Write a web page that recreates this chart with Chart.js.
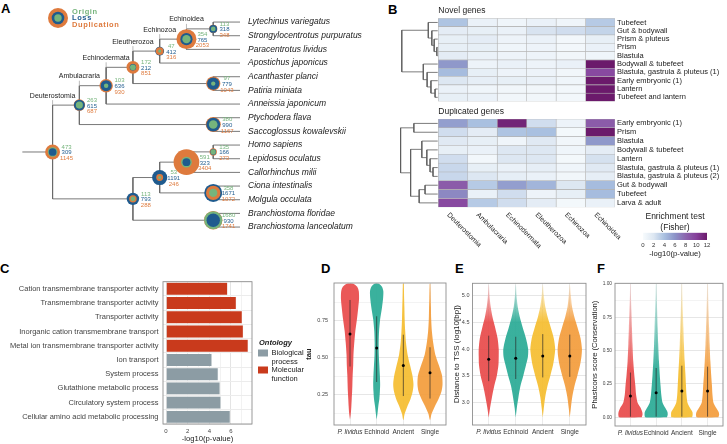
<!DOCTYPE html>
<html>
<head>
<meta charset="utf-8">
<script src="https://cdn.jsdelivr.net/npm/chart.js@4.4.1/dist/chart.umd.min.js"></script>
<style>
  body { margin: 0; background: #fff; width: 727px; height: 444px; position: relative; overflow: hidden; font-family: 'Liberation Sans', Arial, sans-serif; }
  canvas { position: absolute; }
  .lab { position: absolute; font-weight: bold; font-size: 13px; color: #000; line-height: 13px; }
</style>
</head>
<body>
<div class="lab" style="left:1px;top:2px">A</div>
<div class="lab" style="left:388px;top:3px">B</div>
<div class="lab" style="left:0px;top:262px">C</div>
<div class="lab" style="left:321px;top:262px">D</div>
<div class="lab" style="left:455px;top:262px">E</div>
<div class="lab" style="left:597px;top:262px">F</div>
<script>
// ---------- A: gene tree ----------
const leaves = ['Lytechinus variegatus', 'Strongylocentrotus purpuratus', 'Paracentrotus lividus', 'Apostichus japonicus',
  'Acanthaster planci', 'Patiria miniata', 'Anneissia japonicum', 'Ptychodera flava', 'Saccoglossus kowalevskii',
  'Homo sapiens', 'Lepidosus oculatus', 'Callorhinchus milii', 'Ciona intestinalis', 'Molgula occulata',
  'Branchiostoma floridae', 'Branchiostoma lanceolatum'];
// internal nodes: children ids (leaf i -> i, node j -> 16 + j)
const nodeKids = [[17, 25], [18, 24], [19, 6], [20, 23], [21, 3], [22, 2], [0, 1], [4, 5], [7, 8],
  [26, 29], [27, 28], [30, 11], [12, 13], [14, 15], [9, 10]];
const nodeDepth = [0, 1, 2, 3, 4, 5, 6, 6, 6, 3, 4, 5, 6, 6, 6];
const nodeLabel = ['Deuterostomia', 'Ambulacraria', 'Echinodermata', 'Eleutherozoa', 'Echinozoa', 'Echinoidea',
  '', '', '', '', '', '', '', '', ''];
const originCounts = [473, 263, 103, 172, 47, 354, 113, 97, 380, 113, 53, 591, 358, 1680, 135];
const lossCounts = [309, 615, 636, 212, 412, 765, 318, 779, 990, 793, 1191, 323, 1671, 930, 166];
const dupCounts = [1145, 687, 930, 851, 316, 2053, 348, 1043, 1167, 288, 246, 3404, 1072, 1741, 273];

// ---------- B: enrichment heatmaps ----------
const clades = ['Deuterostomia', 'Ambulacraria', 'Echinodermata', 'Eleutherozoa', 'Echinozoa', 'Echinoidea'];
const novelRows = ['Tubefeet', 'Gut & bodywall', 'Prism & pluteus', 'Prism', 'Blastula', 'Bodywall & tubefeet',
  'Blastula, gastrula & pluteus (1)', 'Early embryonic (1)', 'Lantern', 'Tubefeet and lantern'];
const novelVals = [
  [3.8, 1.0, 0.6, 1.0, 0.6, 3.5],
  [1.5, 1.2, 1.0, 2.2, 2.5, 3.0],
  [1.2, 1.5, 0.8, 1.0, 0.4, 1.2],
  [1.2, 1.2, 0.6, 0.8, 0.4, 1.0],
  [1.5, 1.0, 0.8, 0.8, 0.5, 0.6],
  [5.8, 0.8, 1.0, 0.8, 1.0, 12],
  [4.2, 1.2, 0.8, 0.8, 0.5, 9.5],
  [2.0, 1.3, 1.2, 1.0, 0.6, 12],
  [1.0, 0.6, 0.5, 0.5, 0.4, 12],
  [1.2, 1.0, 0.5, 0.5, 0.4, 12]];
const novelMerges = [[3, 4, 0.05], [2, 10, 0.14], [1, 11, 0.22], [0, 12, 0.34], [8, 9, 0.11],
  [7, 14, 0.25], [6, 15, 0.38], [5, 16, 0.51], [13, 17, 1.24]];
const dupRows = ['Early embryonic (1)', 'Prism', 'Blastula', 'Bodywall & tubefeet', 'Lantern',
  'Blastula, gastrula & pluteus (1)', 'Blastula, gastrula & pluteus (2)', 'Gut & bodywall', 'Tubefeet', 'Larva & adult'];
const dupVals = [
  [5.5, 4.0, 11.5, 2.5, 0.8, 8.5],
  [2.5, 1.5, 3.8, 4.0, 0.3, 12],
  [1.8, 1.2, 0.6, 1.8, 0.5, 5.8],
  [1.2, 1.0, 2.0, 2.0, 0.6, 1.5],
  [2.5, 0.4, 2.0, 2.0, 0.3, 2.3],
  [2.8, 1.2, 1.0, 1.3, 0.6, 1.8],
  [2.8, 2.0, 1.3, 1.0, 0.5, 1.3],
  [8.5, 3.5, 5.5, 4.5, 2.0, 4.2],
  [6.5, 1.0, 2.5, 0.8, 1.2, 4.2],
  [9.5, 3.5, 2.5, 1.5, 0.3, 1.0]];
const dupMerges = [[0, 1, 0.83], [5, 6, 0.18], [4, 11, 0.28], [3, 12, 0.39], [2, 13, 0.56],
  [7, 8, 0.45], [15, 9, 0.65], [14, 16, 0.94], [10, 17, 1.28]];
const scaleStops = [0, 2, 4, 6, 8, 10, 12];
const scaleColors = ['#f7fbfd', '#dde7f2', '#a9c0e0', '#8c93c8', '#8c65ae', '#86409b', '#6b1a6b'];

// ---------- C: GO enrichment ----------
const goTerms = ['Cation transmembrane transporter activity', 'Transmembrane transporter activity', 'Transporter activity',
  'Inorganic cation transmembrane transport', 'Metal ion transmembrane transporter activity', 'Ion transport',
  'System process', 'Glutathione metabolic process', 'Circulatory system process', 'Cellular amino acid metabolic processing'];
const goValues = [5.7, 6.5, 7.05, 7.15, 7.6, 4.25, 4.83, 5.0, 5.08, 5.94];
const goOntology = ['Molecular function', 'Molecular function', 'Molecular function', 'Molecular function', 'Molecular function',
  'Biological process', 'Biological process', 'Biological process', 'Biological process', 'Biological process'];
const ontologyNames = ['Biological process', 'Molecular function'];
const ontologyColors = ['#8c9ca4', '#c93a1c'];

// ---------- D/E/F: violins ----------
const groups = ['P. lividus', 'Echinoid', 'Ancient', 'Single'];
const groupColors = ['#e84a4a', '#29aa95', '#f5bd2f', '#f39c3b'];

const tauLevels = [0.08, 0.12, 0.17, 0.22, 0.27, 0.32, 0.38, 0.45, 0.52, 0.6, 0.68, 0.76, 0.84, 0.9, 0.95, 0.98, 1.0];
const tauPlividus = [0, 0.03, 0.05, 0.065, 0.08, 0.09, 0.1, 0.12, 0.13, 0.16, 0.2, 0.26, 0.31, 0.34, 0.33, 0.27, 0.12];
const tauEchinoid = [0, 0.03, 0.06, 0.1, 0.12, 0.13, 0.12, 0.1, 0.08, 0.075, 0.09, 0.13, 0.2, 0.24, 0.25, 0.2, 0.08];
const tauAncient = [0.01, 0.05, 0.15, 0.27, 0.35, 0.38, 0.34, 0.25, 0.16, 0.1, 0.07, 0.05, 0.04, 0.03, 0.025, 0.02, 0.015];
const tauSingle = [0.01, 0.06, 0.18, 0.32, 0.43, 0.47, 0.45, 0.33, 0.2, 0.12, 0.07, 0.045, 0.035, 0.025, 0.02, 0.015, 0.01];
const tauMedian = [0.66, 0.565, 0.447, 0.398];
const tauLow = [0.44, 0.335, 0.24, 0.223];
const tauHigh = [0.89, 0.78, 0.655, 0.57];

const tssLevels = [2.72, 2.9, 3.1, 3.3, 3.5, 3.7, 3.85, 4.0, 4.2, 4.4, 4.6, 4.8, 5.0, 5.2];
const tssPlividus = [0, 0.05, 0.12, 0.2, 0.3, 0.36, 0.37, 0.37, 0.33, 0.24, 0.14, 0.07, 0.03, 0.01];
const tssEchinoid = [0, 0.04, 0.1, 0.17, 0.28, 0.38, 0.45, 0.46, 0.38, 0.26, 0.15, 0.07, 0.03, 0.01];
const tssAncient = [0, 0.04, 0.09, 0.17, 0.28, 0.38, 0.43, 0.46, 0.41, 0.3, 0.18, 0.09, 0.04, 0.01];
const tssSingle = [0, 0.04, 0.09, 0.17, 0.28, 0.38, 0.43, 0.45, 0.4, 0.29, 0.17, 0.08, 0.04, 0.01];
const tssMedian = [3.81, 3.83, 3.87, 3.87];
const tssLow = [3.40, 3.44, 3.47, 3.48];
const tssHigh = [4.25, 4.23, 4.28, 4.27];

const phcLevels = [0, 0.02, 0.04, 0.07, 0.11, 0.17, 0.24, 0.32, 0.42, 0.55, 0.67, 0.8, 0.92, 1.0];
const phcPlividus = [0.44, 0.47, 0.46, 0.4, 0.28, 0.22, 0.19, 0.15, 0.11, 0.08, 0.06, 0.04, 0.02, 0.01];
const phcEchinoid = [0.42, 0.45, 0.44, 0.36, 0.25, 0.2, 0.17, 0.14, 0.11, 0.08, 0.06, 0.04, 0.025, 0.015];
const phcAncient = [0.4, 0.42, 0.41, 0.32, 0.22, 0.18, 0.16, 0.14, 0.11, 0.08, 0.06, 0.04, 0.025, 0.015];
const phcSingle = [0.42, 0.45, 0.43, 0.34, 0.23, 0.19, 0.17, 0.14, 0.11, 0.08, 0.06, 0.04, 0.025, 0.015];
const phcMedian = [0.16, 0.185, 0.198, 0.198];
const phcLow = [0.005, 0.005, 0.005, 0.005];
const phcHigh = [0.336, 0.37, 0.387, 0.38];

// ---------- setup ----------
const FONT = "'Liberation Sans', Arial, sans-serif";
Chart.defaults.font.family = FONT;
Chart.defaults.color = '#333';
Chart.defaults.animation = false;
Chart.defaults.responsive = false;
Chart.defaults.plugins.legend.display = false;
Chart.defaults.plugins.tooltip.enabled = false;

const GREEN = '#76b47c', BLUE = '#1f5b8e', ORANGE = '#de7a3d';
const gap = {x: null, y: null};

function mk(id, l, t, w, h) {
  const c = document.createElement('canvas');
  c.id = id; c.width = w; c.height = h;
  c.style.left = l + 'px'; c.style.top = t + 'px';
  c.style.width = w + 'px'; c.style.height = h + 'px';
  document.body.appendChild(c);
  return c;
}
function rgba(hex, a) {
  const n = parseInt(hex.slice(1), 16);
  return 'rgba(' + (n >> 16) + ',' + ((n >> 8) & 255) + ',' + (n & 255) + ',' + a + ')';
}
function heatColor(v) {
  let i = 0;
  while (i < scaleStops.length - 2 && v > scaleStops[i + 1]) i++;
  const t = Math.min(1, Math.max(0, (v - scaleStops[i]) / (scaleStops[i + 1] - scaleStops[i])));
  const a = parseInt(scaleColors[i].slice(1), 16), b = parseInt(scaleColors[i + 1].slice(1), 16);
  const ch = s => Math.round(((a >> s) & 255) * (1 - t) + ((b >> s) & 255) * t);
  return 'rgb(' + ch(16) + ',' + ch(8) + ',' + ch(0) + ')';
}
const framePlugin = {
  id: 'frame',
  afterDatasetsDraw(chart) {
    const a = chart.chartArea, ctx = chart.ctx;
    ctx.save();
    ctx.strokeStyle = '#8f8f8f'; ctx.lineWidth = 0.9;
    ctx.strokeRect(a.left, a.top, a.right - a.left, a.bottom - a.top);
    ctx.restore();
  }
};

// ---------- A ----------
const rad = v => 0.22 * Math.sqrt(v);
const nodeY = [];
function yOf(id) {
  if (id < 16) return id;
  const j = id - 16;
  if (nodeY[j] === undefined) nodeY[j] = (yOf(nodeKids[j][0]) + yOf(nodeKids[j][1])) / 2;
  return nodeY[j];
}
nodeKids.forEach((k, j) => yOf(16 + j));
const xOf = id => id < 16 ? 7 : nodeDepth[id - 16];

const treeEdges = [{x: -1.13, y: nodeY[0]}, {x: 0, y: nodeY[0]}, gap];
nodeKids.forEach((k, j) => {
  const d = nodeDepth[j];
  treeEdges.push({x: d, y: yOf(k[0])}, {x: d, y: yOf(k[1])}, gap);
  k.forEach(c => treeEdges.push({x: d, y: yOf(c)}, {x: xOf(c), y: yOf(c)}, gap));
});

const kinds = [[originCounts, GREEN], [lossCounts, BLUE], [dupCounts, ORANGE]];
const layers = [[], [], []], layerCols = [[], [], []];
nodeDepth.forEach((d, j) => {
  kinds.map(k => ({v: k[0][j], col: k[1]})).sort((a, b) => b.v - a.v).forEach((s, i) => {
    layers[i].push({x: d, y: nodeY[j], r: rad(s.v)});
    layerCols[i].push(s.col);
  });
});

const treeText = {
  id: 'treeText',
  afterDatasetsDraw(chart) {
    const {ctx, scales: {x, y}} = chart;
    ctx.save();
    ctx.textBaseline = 'middle';
    nodeDepth.forEach((d, j) => {
      const px = x.getPixelForValue(d), py = y.getPixelForValue(nodeY[j]);
      const r = rad(Math.max(originCounts[j], lossCounts[j], dupCounts[j]));
      ctx.font = '6px ' + FONT;
      ctx.textAlign = 'center';
      [[originCounts, GREEN, -4.9], [lossCounts, BLUE, 0.8], [dupCounts, ORANGE, 6.5]].forEach(([arr, col, dy]) => {
        ctx.fillStyle = col;
        ctx.fillText(String(arr[j]), px + 8 + 0.8 * r, py + dy);
      });
      if (nodeLabel[j]) {
        const top = y.getPixelForValue(Math.min(yOf(nodeKids[j][0]), yOf(nodeKids[j][1])));
        ctx.strokeStyle = '#aaa'; ctx.lineWidth = 0.8;
        ctx.beginPath(); ctx.moveTo(px, top - 5); ctx.lineTo(px, top); ctx.stroke();
        ctx.fillStyle = '#222';
        ctx.font = '7px ' + FONT;
        ctx.fillText(nodeLabel[j], px, top - 9.5);
      }
    });
    // size legend
    [[10, ORANGE], [6.3, BLUE], [3.7, GREEN]].forEach(([r, col]) => {
      ctx.fillStyle = col; ctx.beginPath(); ctx.arc(58, 18, r, 0, Math.PI * 2); ctx.fill();
    });
    ctx.font = 'bold 7.5px ' + FONT;
    ctx.letterSpacing = '0.6px';
    ctx.textAlign = 'left';
    [['Origin', GREEN, 11.5], ['Loss', BLUE, 18.2], ['Duplication', ORANGE, 25]].forEach(([t, col, yy]) => {
      ctx.fillStyle = col; ctx.fillText(t, 72, yy);
    });
    ctx.restore();
  }
};

new Chart(mk('tree', 0, 0, 370, 250), {
  type: 'scatter',
  data: {
    datasets: [
      {type: 'line', data: treeEdges, borderColor: '#6a6a6a', borderWidth: 0.9, pointRadius: 0, spanGaps: false, order: 10},
      ...layers.map((l, i) => ({type: 'bubble', data: l, backgroundColor: layerCols[i], borderWidth: 0, order: 3 - i, clip: false}))
    ]
  },
  options: {
    layout: {padding: 0},
    scales: {
      x: {type: 'linear', min: -1.485, max: 7, display: false},
      y: {
        type: 'linear', reverse: true, min: -0.655, max: 15.72, position: 'right',
        grid: {display: false, drawTicks: false}, border: {display: false},
        afterBuildTicks: s => { s.ticks = leaves.map((_, i) => ({value: i})); },
        afterFit: s => { s.width = 130; },
        ticks: {autoSkip: false, padding: 8, color: '#222', font: {size: 8.5, style: 'italic'}, callback: v => leaves[v]}
      }
    }
  },
  plugins: [treeText]
});

// ---------- B ----------
function heatmap(canvas, rows, vals, merges, title, padTop, padBottom, withCols) {
  const datasets = clades.map((c, ci) => ({
    type: 'bar', indexAxis: 'y', grouped: false, barPercentage: 1, categoryPercentage: 1,
    data: rows.map((r, ri) => ({x: [ci, ci + 1], y: ri})),
    backgroundColor: rows.map((r, ri) => heatColor(vals[ri][ci])),
    borderColor: '#b4b4b4', borderWidth: 0.6, borderSkipped: false
  }));
  const n = rows.length, cx = [], cy = [];
  const pos = id => id < n ? {x: -0.02, y: id} : {x: cx[id - n], y: cy[id - n]};
  const seg = [];
  merges.forEach(([a, b, h], k) => {
    const A = pos(a), B = pos(b);
    cx[k] = -h; cy[k] = (A.y + B.y) / 2;
    seg.push({x: -h, y: A.y}, {x: -h, y: B.y}, gap, {x: -h, y: A.y}, {x: A.x, y: A.y}, gap, {x: -h, y: B.y}, {x: B.x, y: B.y}, gap);
  });
  datasets.push({type: 'line', data: seg, borderColor: '#5a5a5a', borderWidth: 0.8, pointRadius: 0, spanGaps: false});
  const labels = {
    id: 'hmLabels',
    afterDraw(chart) {
      const {ctx, chartArea: a, scales: {x}} = chart;
      ctx.save();
      ctx.fillStyle = '#222';
      ctx.font = '8.5px ' + FONT;
      ctx.textBaseline = 'middle'; ctx.textAlign = 'left';
      ctx.fillText(title, x.getPixelForValue(0), a.top - 7.5);
      if (withCols) {
        ctx.font = '7px ' + FONT;
        clades.forEach((c, ci) => {
          ctx.save();
          ctx.translate(x.getPixelForValue(ci + 0.5) - 5, a.bottom + 6.5);
          ctx.rotate(Math.PI / 4);
          ctx.fillText(c, 0, 0);
          ctx.restore();
        });
      }
      ctx.restore();
    }
  };
  new Chart(canvas, {
    type: 'bar',
    data: {datasets},
    options: {
      layout: {padding: {top: padTop, bottom: padBottom, left: 0, right: 0}},
      scales: {
        x: {type: 'linear', min: -1.98, max: 6, offset: false, display: false},
        y: {
          type: 'linear', reverse: true, min: -0.5, max: n - 0.5, offset: false, position: 'right',
          grid: {display: false, drawTicks: false}, border: {display: false},
          afterBuildTicks: s => { s.ticks = rows.map((_, i) => ({value: i})); },
          afterFit: s => { s.width = 112; },
          ticks: {autoSkip: false, padding: 2, color: '#222', font: {size: 7.5}, callback: v => rows[v]}
        }
      }
    },
    plugins: [labels]
  });
}
heatmap(mk('novel', 380, 0, 347, 108), novelRows, novelVals, novelMerges, 'Novel genes', 18.3, 2, false);
heatmap(mk('dup', 380, 108, 347, 154), dupRows, dupVals, dupMerges, 'Duplicated genes', 11, 54.7, true);

// colour bar
const cbarTitle = {
  id: 'cbarTitle',
  afterDraw(chart) {
    const {ctx, chartArea: a} = chart;
    ctx.save();
    ctx.fillStyle = '#222'; ctx.font = '8.5px ' + FONT;
    ctx.textAlign = 'center'; ctx.textBaseline = 'middle';
    const cxm = (a.left + a.right) / 2;
    ctx.fillText('Enrichment test', cxm, a.top - 16);
    ctx.fillText('(Fisher)', cxm, a.top - 5.5);
    ctx.restore();
  }
};
new Chart(mk('cbar', 620, 208, 107, 54), {
  type: 'bar',
  data: {
    labels: [''],
    datasets: [{
      data: [[scaleStops[0], scaleStops[scaleStops.length - 1]]], barPercentage: 1, categoryPercentage: 1,
      backgroundColor: c => {
        const a = c.chart.chartArea;
        if (!a) return scaleColors[0];
        const g = c.chart.ctx.createLinearGradient(a.left, 0, a.right, 0);
        scaleStops.forEach((s, i) => g.addColorStop(s / 12, scaleColors[i]));
        return g;
      }
    }]
  },
  options: {
    indexAxis: 'y',
    layout: {padding: {top: 24.7, left: 23, right: 20, bottom: 0}},
    scales: {
      y: {display: false},
      x: {
        type: 'linear', min: 0, max: 12, grid: {display: false, drawTicks: false}, border: {display: false},
        afterBuildTicks: s => { s.ticks = scaleStops.map(v => ({value: v})); },
        afterFit: s => { s.height = 22; },
        ticks: {padding: 1.5, color: '#333', font: {size: 6}},
        title: {display: true, text: '-log10(p-value)', color: '#222', font: {size: 7.7}, padding: {top: 0, bottom: 3.3}}
      }
    }
  },
  plugins: [cbarTitle]
});

// ---------- C ----------
const legendC = {
  id: 'legendC',
  afterDraw(chart) {
    const ctx = chart.ctx;
    ctx.save();
    ctx.textBaseline = 'middle'; ctx.textAlign = 'left';
    ctx.fillStyle = '#222';
    ctx.font = 'italic bold 7.5px ' + FONT;
    ctx.fillText('Ontology', 259, 80.7);
    ctx.font = '7.5px ' + FONT;
    ontologyNames.forEach((nm, i) => {
      const y0 = 87.5 + i * 17;
      ctx.fillStyle = ontologyColors[i];
      ctx.fillRect(258, y0, 10, 7);
      ctx.fillStyle = '#222';
      nm.split(' ').forEach((w, k) => ctx.fillText(w, 271.5, y0 + 3.5 + k * 8.5));
    });
    ctx.restore();
  }
};
new Chart(mk('go', 0, 262, 305, 182), {
  type: 'bar',
  data: {
    labels: goTerms,
    datasets: [{
      data: goValues, backgroundColor: goOntology.map(o => ontologyColors[ontologyNames.indexOf(o)]),
      borderColor: '#f4f4f4', borderWidth: 0.6, barPercentage: 0.92, categoryPercentage: 1
    }]
  },
  options: {
    indexAxis: 'y',
    layout: {padding: {top: 19.7, right: 53, left: 0, bottom: 0}},
    scales: {
      x: {
        type: 'linear', min: -0.28, max: 7.94, border: {display: false},
        grid: {drawTicks: false, color: c => c.tick && c.tick.value % 2 ? '#f2f2f2' : '#e4e4e4'},
        afterBuildTicks: s => { s.ticks = [0, 1, 2, 3, 4, 5, 6, 7].map(v => ({value: v})); },
        afterFit: s => { s.height = 20; },
        ticks: {padding: 3.5, color: '#444', font: {size: 6}, callback: v => v % 2 ? '' : v},
        title: {display: true, text: '-log10(p-value)', color: '#222', font: {size: 7.7}, padding: {top: 0, bottom: 0.5}}
      },
      y: {
        grid: {drawTicks: false, color: '#ececec'}, border: {display: false},
        afterFit: s => { s.width = 163; },
        ticks: {padding: 4.5, color: '#444', font: {size: 7.5}}
      }
    }
  },
  plugins: [framePlugin, legendC]
});

// ---------- D/E/F ----------
function violinChart(canvas, cfg) {
  const datasets = [];
  cfg.widths.forEach((w, i) => {
    const c = i + 1;
    const pts = cfg.levels.map((y, k) => ({x: c + w[k], y}));
    for (let k = cfg.levels.length - 1; k >= 0; k--) pts.push({x: c - w[k], y: cfg.levels[k]});
    pts.push(pts[0]);
    const col = groupColors[i];
    datasets.push({
      type: 'line', data: pts, fill: 'shape', borderWidth: 0, pointRadius: 0, tension: 0.25, order: 5,
      backgroundColor: ctx => {
        const ch = ctx.chart;
        if (!ch.chartArea || !cfg.fade) return rgba(col, 0.92);
        const ys = ch.scales.y;
        const g = ch.ctx.createLinearGradient(0, ys.getPixelForValue(cfg.fade[0]), 0, ys.getPixelForValue(cfg.fade[1]));
        g.addColorStop(0, rgba(col, 0.92));
        g.addColorStop(1, rgba(col, 0.12));
        return g;
      }
    });
    datasets.push({type: 'line', data: [{x: c, y: cfg.low[i]}, {x: c, y: cfg.high[i]}],
      borderColor: 'rgba(40,40,40,0.75)', borderWidth: 0.9, pointRadius: 0, order: 1});
  });
  datasets.push({type: 'scatter', data: cfg.median.map((m, i) => ({x: i + 1, y: m})),
    backgroundColor: '#000', pointRadius: 1.5, borderWidth: 0, order: 0});
  new Chart(canvas, {
    type: 'scatter',
    data: {datasets},
    options: {
      layout: {padding: {top: cfg.top, right: cfg.right, left: 0, bottom: 0}},
      scales: {
        x: {
          type: 'linear', min: 0.4, max: 4.6, border: {display: false},
          grid: {drawTicks: false, color: '#ebebeb'},
          afterBuildTicks: s => { s.ticks = groups.map((g, i) => ({value: i + 1})); },
          afterFit: s => { s.height = cfg.xh; },
          ticks: {padding: 3.2, color: '#333', callback: v => groups[v - 1],
            font: c => ({size: 6.5, style: c.tick && c.tick.value === 1 ? 'italic' : 'normal'})}
        },
        y: {
          type: 'linear', min: cfg.min, max: cfg.max, border: {display: false},
          grid: {drawTicks: false, color: c => c.tick && cfg.labelled.includes(c.tick.value) ? '#e6e6e6' : '#f3f3f3'},
          afterBuildTicks: s => { s.ticks = cfg.ticks.map(v => ({value: v})); },
          afterFit: s => { s.width = cfg.yw; },
          ticks: {padding: cfg.tp, color: '#444', font: {size: cfg.tfs},
            callback: v => cfg.labelled.includes(v) ? v.toFixed(cfg.dec) : ''},
          title: {display: true, text: cfg.title, color: '#222', font: {size: cfg.tts, weight: cfg.bold ? 'bold' : 'normal'},
            padding: {top: cfg.titlePad, bottom: 0}}
        }
      }
    },
    plugins: [framePlugin]
  });
}

violinChart(mk('tau', 296, 262, 154, 182), {
  levels: tauLevels, widths: [tauPlividus, tauEchinoid, tauAncient, tauSingle],
  median: tauMedian, low: tauLow, high: tauHigh,
  min: 0.044, max: 1.005, ticks: [0.125, 0.25, 0.375, 0.5, 0.625, 0.75, 0.875], labelled: [0.25, 0.5, 0.75], dec: 2,
  title: 'tau', bold: true, tts: 7.5, titlePad: 8.5, top: 21, right: 4, xh: 19, yw: 38, tp: 6, tfs: 5.5, fade: null
});
violinChart(mk('tss', 450, 262, 140, 182), {
  levels: tssLevels, widths: [tssPlividus, tssEchinoid, tssAncient, tssSingle],
  median: tssMedian, low: tssLow, high: tssHigh,
  min: 2.58, max: 5.23, ticks: [2.75, 3, 3.25, 3.5, 3.75, 4, 4.25, 4.5, 4.75, 5], labelled: [3, 3.5, 4, 4.5, 5], dec: 1,
  title: 'Distance to TSS (log10[bp])', bold: false, tts: 8, titlePad: 2, top: 21.3, right: 3.5, xh: 19, yw: 22.5, tp: 3, tfs: 5.5,
  fade: [4.5, 5.23]
});
violinChart(mk('phc', 590, 262, 137, 182), {
  levels: phcLevels, widths: [phcPlividus, phcEchinoid, phcAncient, phcSingle],
  median: phcMedian, low: phcLow, high: phcHigh,
  min: -0.065, max: 1.005, ticks: [0, 0.125, 0.25, 0.375, 0.5, 0.625, 0.75, 0.875, 1], labelled: [0, 0.25, 0.5, 0.75, 1], dec: 2,
  title: 'Phastcons score (Conservation)', bold: false, tts: 7.6, titlePad: 0.5, top: 21.3, right: 1, xh: 18, yw: 25, tp: 3, tfs: 4.8,
  fade: [0.35, 1.0]
});
</script>
</body>
</html>
